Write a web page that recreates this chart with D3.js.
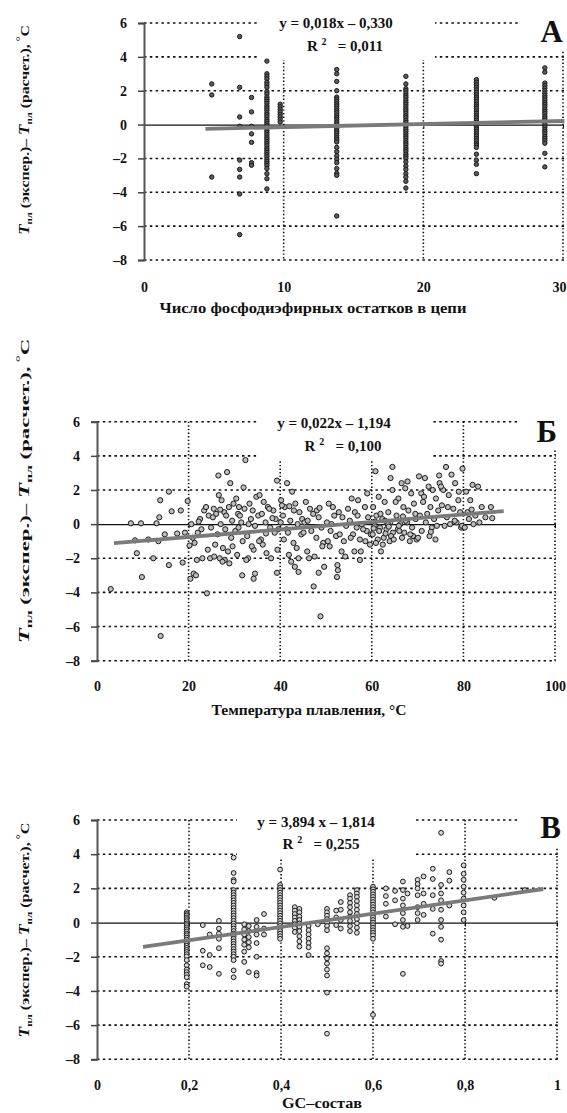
<!DOCTYPE html>
<html><head><meta charset="utf-8">
<script src="https://cdn.jsdelivr.net/npm/d3@7"></script>
<style>
body{margin:0;background:#fff}
svg{display:block}
text{font-family:"Liberation Serif","Times New Roman",serif;font-weight:bold;fill:#111}
</style>
</head><body>
<svg id="chart" width="567" height="1113"></svg>
<script>
// ---------- DATA ----------
const yTicks = [-8, -6, -4, -2, 0, 2, 4, 6];
const xTicksA = [0, 10, 20, 30];
const xTicksB = [0, 20, 40, 60, 80, 100];
const xTicksC = [0, 0.2, 0.4, 0.6, 0.8, 1];

// Panel A: residuals by number of phosphodiester residues (columns)
const columnsA = [
  {x: 4.85, y: [2.4, 1.75, -3.1]},
  {x: 6.85, y: [5.2, 2.2, 0.45, -0.1, -2.1, -2.65, -3.1, -4.1, -6.5]},
  {x: 7.7, y: [1.6, 0.75, -0.1, -0.55, -1.05, -2.25, -2.4]},
  {x: 8.8, y: [3.75, 3.0, 2.85, 2.7, 2.5, 2.35, 2.2, 1.95, 1.8, 1.62, 1.5, 1.38, 1.25, 1.1, 0.98, 0.85, 0.7, 0.58, 0.45, 0.3, 0.18, 0.05, -0.08, -0.2, -0.35, -0.47, -0.6, -0.74, -0.86, -1.0, -1.12, -1.25, -1.4, -1.52, -1.65, -1.78, -1.9, -2.05, -2.18, -2.3, -2.42, -2.6, -2.9, -3.2, -3.8]},
  {x: 9.75, y: [1.2, 1.05, 0.9, 0.75, 0.6, 0.45, 0.3, 0.15]},
  {x: 13.8, y: [3.25, 3.0, 2.55, 2.0, 1.62, 1.5, 1.36, 1.22, 1.1, 0.95, 0.82, 0.7, 0.55, 0.42, 0.3, 0.15, 0.02, -0.12, -0.25, -0.38, -0.5, -0.65, -0.78, -0.9, -1.03, -1.35, -1.6, -1.85, -2.05, -2.25, -2.6, -2.88, -3.0, -5.4]},
  {x: 18.75, y: [2.85, 2.4, 2.12, 2.0, 1.86, 1.72, 1.6, 1.45, 1.32, 1.2, 1.05, 0.92, 0.8, 0.66, 0.52, 0.4, 0.25, 0.12, 0.0, -0.15, -0.28, -0.4, -0.55, -0.68, -0.8, -0.95, -1.08, -1.2, -1.35, -1.48, -1.6, -1.75, -1.88, -2.0, -2.2, -2.45, -2.65, -2.9, -3.1, -3.35, -3.75]},
  {x: 23.8, y: [2.65, 2.5, 2.35, 2.2, 2.05, 1.9, 1.76, 1.62, 1.5, 1.35, 1.2, 1.08, 0.95, 0.8, 0.66, 0.52, 0.4, 0.26, 0.12, 0.0, -0.14, -0.27, -0.4, -0.55, -0.68, -0.82, -0.95, -1.1, -1.22, -1.35, -1.75, -2.1, -2.35, -2.9]},
  {x: 28.7, y: [3.35, 3.1, 2.45, 2.3, 2.15, 2.0, 1.85, 1.7, 1.58, 1.45, 1.3, 1.18, 1.05, 0.9, 0.78, 0.65, 0.5, 0.38, 0.25, 0.1, -0.02, -0.15, -0.3, -0.42, -0.55, -0.7, -0.82, -0.95, -1.1, -1.7, -2.5]}
];

// Panel B: residuals by melting temperature ([x, y] pairs)
const pointsB = [
  [3.0,-3.8],[7.4,0.05],[9.6,0.05],[8.7,-1.7],[9.8,-3.1],[13.0,0.05],[12.3,-2.0],[13.8,1.4],[13.6,0.4],[13.4,-1.0],[13.9,-6.55],[15.7,1.9],[15.7,-2.4],[16.3,0.75],[18.3,0.8],[18.7,-2.25],[19.8,1.35],[11.2,-0.9],[8.3,-0.95],[17.5,-0.55],[14.8,-0.6],[19.2,-0.5],
  [20.4,-3.2],[21.1,-2.9],[21.6,-3.0],[20.6,0.0],[20.9,-0.8],[21.3,-1.1],[20.2,-1.25],[22.0,-0.5],[22.5,0.3],[23.0,-2.0],[21.8,-2.1],[24.0,-4.05],[23.4,0.8],[24.4,0.5],[22.8,-0.3],[24.7,-2.0],[23.8,1.0],[24.2,-1.5],[22.2,0.15],[24.9,-0.2],
  [26.5,2.85],[28.4,3.05],[29.1,2.4],[26.6,1.7],[27.2,1.4],[25.5,0.9],[26.0,0.6],[27.8,0.7],[28.8,1.0],[29.5,0.2],[25.3,0.4],[27.0,0.0],[28.0,-0.3],[26.3,-0.6],[29.3,-0.8],[25.8,-1.2],[27.5,-1.4],[28.6,-1.6],[26.8,-2.0],[27.9,-2.1],[28.9,-2.3],[25.6,-1.9],[29.8,1.2],[26.9,0.85],[28.2,0.5],[27.4,-2.2],[29.6,-1.3],
  [32.4,3.75],[32.0,2.15],[30.4,1.5],[33.3,1.2],[31.0,1.0],[34.0,0.8],[30.8,0.6],[33.6,0.3],[31.5,0.1],[34.5,-0.1],[30.2,-0.4],[32.8,-0.7],[31.8,-1.0],[34.2,-1.5],[30.6,-1.8],[33.0,-2.0],[31.7,-3.0],[34.2,-3.2],[34.5,-2.9],[32.2,0.9],[31.2,0.5],[33.8,-1.3],[32.6,-2.1],[34.8,1.6],[30.9,-0.2],[33.1,0.0],
  [35.5,1.7],[36.4,1.3],[37.3,1.0],[38.5,0.8],[35.2,0.5],[39.0,0.3],[36.8,0.1],[37.8,-0.2],[38.8,-0.5],[35.8,-0.9],[36.2,-1.2],[39.4,-1.5],[37.0,-1.7],[38.0,-2.0],[39.3,-2.85],[39.3,2.55],[36.0,0.6],[39.6,-0.3],[37.6,0.9],[35.4,-1.0],[38.3,0.35],[36.9,-0.55],
  [41.5,2.4],[42.6,1.9],[40.2,1.4],[43.3,1.2],[41.0,1.0],[44.2,0.7],[40.6,0.5],[42.2,0.2],[43.8,0.0],[41.4,-0.3],[44.6,-0.6],[40.8,-0.9],[42.9,-1.1],[43.6,-1.4],[41.9,-1.8],[44.0,-2.0],[42.4,-2.2],[44.0,-2.8],[40.4,1.1],[43.0,0.8],[44.8,0.3],[41.7,-0.5],[43.2,-2.5],[42.0,1.05],[40.1,0.1],
  [45.6,1.3],[46.5,0.9],[47.2,0.6],[48.4,0.4],[45.3,0.1],[49.0,-0.2],[46.8,-0.4],[47.9,-0.8],[49.4,-1.1],[45.9,-1.6],[46.3,-2.0],[49.6,-2.5],[48.4,-2.85],[47.3,-3.65],[48.8,-5.4],[48.0,0.8],[46.0,0.2],[49.2,-1.3],[47.5,-1.9],[48.6,0.95],[45.1,-0.5],
  [50.6,1.2],[51.5,1.0],[52.8,0.7],[53.6,0.4],[50.2,0.1],[54.4,-0.1],[51.0,-0.4],[52.2,-0.7],[53.9,-1.0],[50.8,-1.3],[54.2,-1.9],[52.5,-2.4],[52.6,-2.7],[52.4,-3.1],[51.8,0.5],[53.0,-0.6],[54.8,0.9],[50.4,-1.0],[53.4,-1.6],[51.2,0.0],
  [55.6,1.5],[57.0,1.4],[58.5,1.0],[56.3,0.7],[59.2,0.4],[55.2,0.2],[57.8,0.0],[56.7,-0.2],[58.9,-0.4],[55.9,-0.6],[57.4,-0.9],[59.6,-1.2],[56.2,-1.6],[57.4,-2.1],[59.0,1.8],[58.1,-0.3],[55.4,-0.8],[56.9,0.5],[58.6,-1.0],[59.8,-0.6],[57.6,-1.6],
  [60.8,3.1],[64.5,3.35],[64.1,2.7],[64.5,2.0],[61.5,1.6],[62.8,1.3],[60.3,1.0],[63.6,0.7],[61.0,0.5],[62.3,0.3],[64.0,0.1],[60.6,-0.1],[61.8,-0.2],[63.2,-0.3],[64.6,-0.5],[60.2,-0.6],[62.6,-0.8],[61.3,-0.9],[63.9,-1.0],[60.9,-1.1],[62.0,-1.6],[63.5,0.0],[61.6,-0.4],[64.2,-0.7],[62.9,0.2],[60.4,-0.25],[63.0,-0.55],[61.9,0.6],[64.8,-0.9],[62.4,-1.2],[60.7,0.15],[63.7,-0.15],
  [66.5,2.4],[67.3,2.1],[68.6,1.8],[65.8,1.5],[69.2,1.2],[66.9,1.0],[68.0,0.8],[65.4,0.5],[69.6,0.3],[67.7,0.1],[66.2,0.0],[68.8,-0.2],[65.7,-0.3],[67.1,-0.5],[69.0,-0.7],[66.6,-0.8],[68.3,-1.0],[67.8,2.5],[65.2,1.3],[69.5,0.6],[66.0,-0.4],[68.4,-0.6],[67.4,0.2],[65.9,-0.1],[69.8,-0.9],[66.8,0.45],
  [70.3,2.8],[71.6,2.7],[72.4,2.2],[73.3,2.0],[70.8,1.8],[74.0,1.5],[71.2,1.3],[72.8,1.0],[74.5,0.8],[70.5,0.5],[73.6,0.3],[71.8,0.1],[74.2,-0.1],[70.9,-0.4],[72.6,-0.7],[73.9,-0.9],[74.7,2.85],[71.4,1.6],[72.1,0.6],[73.1,-0.2],[74.8,2.4],[70.1,-0.8],[72.9,-0.45],
  [76.2,3.35],[79.8,3.25],[77.4,2.9],[78.2,2.4],[75.6,2.0],[76.8,1.7],[78.9,1.4],[75.3,1.1],[77.8,0.9],[79.3,0.7],[76.4,0.4],[78.5,0.1],[75.9,-0.1],[79.5,-0.2],[77.1,0.0],[79.0,1.9],[76.6,1.0],[78.1,0.2],[75.1,2.2],[79.7,-0.1],
  [82.0,2.3],[83.2,2.2],[80.6,1.9],[81.5,1.4],[84.0,1.0],[80.9,0.7],[82.6,0.5],[81.2,0.3],[83.5,0.1],[80.3,-0.2],[82.2,0.0],[86.0,1.0],[86.3,0.35],[84.8,0.4],[81.8,0.85]
];

// Panel C: residuals by GC content (columns)
const columnsC = [
  {x: 0.195, y: [0.6, 0.5, 0.42, 0.3, 0.2, 0.08, -0.05, -0.15, -0.28, -0.4, -0.52, -0.65, -0.75, -0.88, -1.0, -1.12, -1.25, -1.36, -1.48, -1.6, -1.72, -1.85, -1.98, -2.2, -2.5, -2.75, -2.9, -3.05, -3.2, -3.6, -3.75]},
  {x: 0.23, y: [-0.15, -1.65, -2.5]},
  {x: 0.245, y: [-0.7, -1.9, -2.6]},
  {x: 0.265, y: [0.1, -0.35, -0.65, -0.95, -1.5, -3.0]},
  {x: 0.297, y: [3.8, 2.9, 2.5, 2.4, 1.9, 1.75, 1.6, 1.45, 1.3, 1.15, 1.0, 0.85, 0.7, 0.55, 0.4, 0.25, 0.1, -0.05, -0.2, -0.35, -0.5, -0.65, -0.8, -0.95, -1.1, -1.25, -1.4, -1.55, -1.7, -1.85, -2.0, -2.2, -2.8, -3.2]},
  {x: 0.32, y: [-0.1, -0.4, -0.7, -1.0, -1.3, -1.7, -2.3]},
  {x: 0.33, y: [-0.2, -0.5, -0.85, -1.15, -1.45, -2.9]},
  {x: 0.347, y: [0.15, -0.25, -0.7, -1.2, -2.0, -2.95, -3.1]},
  {x: 0.363, y: [0.5, -0.35, -0.7]},
  {x: 0.398, y: [3.1, 2.2, 2.05, 1.9, 1.75, 1.6, 1.45, 1.3, 1.15, 1.0, 0.85, 0.7, 0.55, 0.4, 0.25, 0.1, -0.05, -0.2, -0.35, -0.5, -0.65, -0.8, -0.95]},
  {x: 0.43, y: [0.9, 0.7, 0.5, 0.3, 0.1, -0.1, -0.3, -0.55]},
  {x: 0.44, y: [0.8, 0.6, 0.35, 0.15, -0.05, -0.25, -0.5, -0.8, -1.1, -1.4]},
  {x: 0.46, y: [-0.2, -0.45, -0.7, -0.95, -1.2, -1.45, -1.9]},
  {x: 0.48, y: [-0.1]},
  {x: 0.5, y: [0.8, 0.6, 0.4, 0.2, 0.0, -0.2, -0.45, -1.5, -1.8, -2.1, -2.4, -2.75, -3.1, -4.1, -6.5]},
  {x: 0.52, y: [0.7, 0.3, -0.15]},
  {x: 0.53, y: [1.2, 0.75, 0.15, -0.35]},
  {x: 0.55, y: [1.6, 1.4, 1.15, 0.9, 0.6, 0.35, 0.1, -0.2, -0.5]},
  {x: 0.565, y: [1.9, 1.7, 1.5, 1.25, 1.0, 0.75, 0.5, 0.2, -0.05, -0.3, -0.6]},
  {x: 0.6, y: [2.1, 1.95, 1.8, 1.65, 1.5, 1.35, 1.2, 1.05, 0.9, 0.75, 0.6, 0.45, 0.3, 0.15, 0.0, -0.15, -0.3, -0.45, -0.6, -0.75, -0.95, -5.4]},
  {x: 0.628, y: [2.0, 1.55, 1.1, 0.35]},
  {x: 0.648, y: [1.85, 1.3, -0.1]},
  {x: 0.665, y: [2.4, 1.9, 1.4, 1.0, 0.55, 0.15, -0.25, -3.0]},
  {x: 0.675, y: [1.7, -0.2]},
  {x: 0.697, y: [2.5, 2.25, 2.0, 1.6, 0.9, 0.55, 0.15]},
  {x: 0.71, y: [2.7, 1.7, 1.1, 0.45]},
  {x: 0.73, y: [3.15, 2.55, 1.6, 0.8, -0.65]},
  {x: 0.748, y: [5.25, 2.2, 1.7, 1.3, 0.75, 0.15, -0.25, -1.0, -2.25, -2.4]},
  {x: 0.766, y: [2.95, 2.45, 1.0]},
  {x: 0.797, y: [3.35, 2.85, 2.5, 2.1, 1.75, 1.4, 1.0, 0.6, 0.15]},
  {x: 0.864, y: [1.45]},
  {x: 0.93, y: [1.9]}
];

// Trend lines (equations shown on the chart) and their x-extent
const trendA = {slope: 0.018, intercept: -0.330, from: 4.4, to: 30.1};
const trendB = {slope: 0.022, intercept: -1.194, from: 3.7, to: 88.8};
const trendC = {slope: 3.894, intercept: -1.814, from: 0.1, to: 0.97};
const equationA = ["y = 0,018x – 0,330", "0,011"];
const equationB = ["y = 0,022x – 1,194", "0,100"];
const equationC = ["y = 3,894 x – 1,814", "0,255"];
const xTitles = ["Число фосфодиэфирных остатков в цепи", "Температура плавления, °C", "GC–состав"];
const letters = ["А", "Б", "В"];

// ---------- DRAW ----------
const svg = d3.select("#chart");
const flat = cols => cols.flatMap(c => c.y.map(v => [c.x, v]));
const fmt = d => (d < 0 ? "–" + String(-d) : String(d)).replace(".", ",");

function panel(cfg) {
  const x = d3.scaleLinear().domain(cfg.xDomain).range([cfg.left, cfg.right]);
  const y = d3.scaleLinear().domain([-8, 6]).range([cfg.bottom, cfg.top]);
  const g = svg.append("g");

  // horizontal dotted grid
  g.selectAll("line.hg").data(yTicks.filter(v => v !== 0)).join("line")
    .attr("x1", cfg.left).attr("x2", cfg.right + 1)
    .attr("y1", d => y(d)).attr("y2", d => y(d))
    .attr("stroke", "#111").attr("stroke-width", 1.6).attr("stroke-dasharray", "2.5,3.3");
  // vertical dotted grid
  g.selectAll("line.vg").data(cfg.xTicks.slice(1)).join("line")
    .attr("x1", d => x(d)).attr("x2", d => x(d))
    .attr("y1", y(6)).attr("y2", y(-8))
    .attr("stroke", "#111").attr("stroke-width", 1.6).attr("stroke-dasharray", "1.4,2.2");
  // text backgrounds
  cfg.masks.forEach(m => g.append("rect").attr("x", m[0]).attr("y", m[1]).attr("width", m[2]).attr("height", m[3]).attr("fill", "#fff"));

  // x axis crossing at 0
  const ax0 = g.append("g").attr("transform", `translate(0,${y(0)})`)
    .call(d3.axisBottom(x).tickValues(cfg.xTicks).tickSize(4).tickSizeOuter(0).tickFormat(""));
  ax0.select(".domain").attr("stroke", "#111").attr("stroke-width", 1.3);
  ax0.selectAll(".tick line").attr("stroke", "#111").attr("stroke-width", 1);

  // x tick labels (low position)
  const axl = g.append("g").attr("transform", `translate(0,${y(-8)})`)
    .call(d3.axisBottom(x).tickValues(cfg.xTicks).tickSize(0).tickPadding(cfg.xPad).tickFormat(fmt));
  axl.select(".domain").remove();
  axl.selectAll("text").attr("font-size", 14).attr("font-family", "Liberation Serif, serif").attr("font-weight", "bold").attr("fill", "#111");
  if (cfg.lastLabelEnd) {
    axl.selectAll(".tick").filter((d, i, n) => i === n.length - 1).select("text")
      .attr("text-anchor", "end").attr("x", 566 - cfg.right);
  }

  // points
  g.selectAll("circle").data(cfg.points).join("circle")
    .attr("cx", d => x(d[0])).attr("cy", d => y(d[1])).attr("r", cfg.r)
    .attr("fill", cfg.fill).attr("stroke", "#1a1a1a").attr("stroke-width", 1);

  // trend line
  const t = cfg.trend;
  g.append("line")
    .attr("x1", x(t.from)).attr("y1", y(t.slope * t.from + t.intercept))
    .attr("x2", x(t.to)).attr("y2", y(t.slope * t.to + t.intercept))
    .attr("stroke", "#7a7a7a").attr("stroke-width", 3.8);

  // y axis
  const ay = g.append("g").attr("transform", `translate(${cfg.left},0)`)
    .call(d3.axisLeft(y).tickValues(yTicks).tickSize(6).tickPadding(11).tickFormat(fmt));
  ay.select(".domain").attr("stroke", "#555").attr("stroke-width", 2);
  ay.selectAll(".tick line").attr("stroke", "#444").attr("stroke-width", 1.5);
  ay.selectAll("text").attr("font-size", 14).attr("font-family", "Liberation Serif, serif").attr("font-weight", "bold").attr("fill", "#111");

  // equation
  g.append("text").attr("x", cfg.eq[0]).attr("y", cfg.eq[1]).attr("text-anchor", "middle")
    .attr("font-size", 15).text(cfg.equation[0]);
  const r2 = g.append("text").attr("x", cfg.r2[0]).attr("y", cfg.r2[1]).attr("text-anchor", "middle")
    .attr("font-size", 15).style("white-space", "pre");
  r2.append("tspan").text("R ");
  r2.append("tspan").attr("font-size", 10).attr("dy", -6).text("2");
  r2.append("tspan").attr("dy", 6).text("   = " + cfg.equation[1]);

  // panel letter
  g.append("text").attr("x", cfg.letter[0]).attr("y", cfg.letter[1]).attr("text-anchor", "end")
    .attr("font-size", 31).text(cfg.letterText);

  // x title
  g.append("text").attr("x", cfg.xTitle[0]).attr("y", cfg.xTitle[1]).attr("text-anchor", "middle")
    .attr("font-size", 15).attr("textLength", cfg.xTitle[2]).attr("lengthAdjust", "spacingAndGlyphs")
    .text(cfg.xTitleText);

  // y title (rotated), stretched along its length to the measured span
  const yt = g.append("text").attr("text-anchor", "middle").attr("font-size", 13);
  yt.append("tspan").attr("font-style", "italic").attr("font-size", 14).text("T");
  yt.append("tspan").attr("font-size", 9).attr("dy", 3).text("пл");
  yt.append("tspan").attr("dy", -3).text(" (экспер.)– ");
  yt.append("tspan").attr("font-style", "italic").attr("font-size", 14).text("T");
  yt.append("tspan").attr("font-size", 9).attr("dy", 3).text("пл");
  yt.append("tspan").attr("dy", -3).text(" (расчет.),");
  yt.append("tspan").attr("font-size", 10).attr("dy", -5).text(" °");
  yt.append("tspan").attr("dy", 5).text("C");
  const natural = yt.node().getComputedTextLength() || cfg.yTitle[2];
  const k = cfg.yTitle[2] / natural;
  yt.attr("transform", `translate(${cfg.yTitle[0]},${cfg.yTitle[1]}) rotate(-90) scale(${k},1)`);
}

panel({
  xDomain: [0, 30], xTicks: xTicksA, left: 144, right: 563, top: 23, bottom: 260, xPad: 22, lastLabelEnd: true,
  points: flat(columnsA), r: 2.2, fill: "#5a5a5a", trend: trendA,
  masks: [[258, 14, 177, 46], [520, 8, 47, 42]],
  equation: equationA, eq: [336, 28], r2: [345, 51],
  letterText: letters[0], letter: [563, 42],
  xTitleText: xTitles[0], xTitle: [313, 313, 307],
  yTitle: [29, 130, 210]
});
panel({
  xDomain: [0, 100], xTicks: xTicksB, left: 97, right: 555, top: 421.7, bottom: 660.7, xPad: 20,
  points: pointsB, r: 2.6, fill: "#bdbdbd", trend: trendB,
  masks: [[258, 413, 175, 47], [520, 408, 47, 42]],
  equation: equationB, eq: [334, 427.5], r2: [343, 450.5],
  letterText: letters[1], letter: [557, 442],
  xTitleText: xTitles[1], xTitle: [309, 715, 195],
  yTitle: [29, 491, 305]
});
panel({
  xDomain: [0, 1], xTicks: xTicksC, left: 97, right: 557, top: 820, bottom: 1059.3, xPad: 21,
  points: flat(columnsC), r: 2.4, fill: "#d6d6d6", trend: trendC,
  masks: [[237, 812, 176, 46], [520, 806, 47, 42]],
  equation: equationC, eq: [316, 826.5], r2: [321, 848.5],
  letterText: letters[2], letter: [561, 838],
  xTitleText: xTitles[2], xTitle: [322, 1108, 80],
  yTitle: [29, 930, 215]
});
</script>
</body></html>
